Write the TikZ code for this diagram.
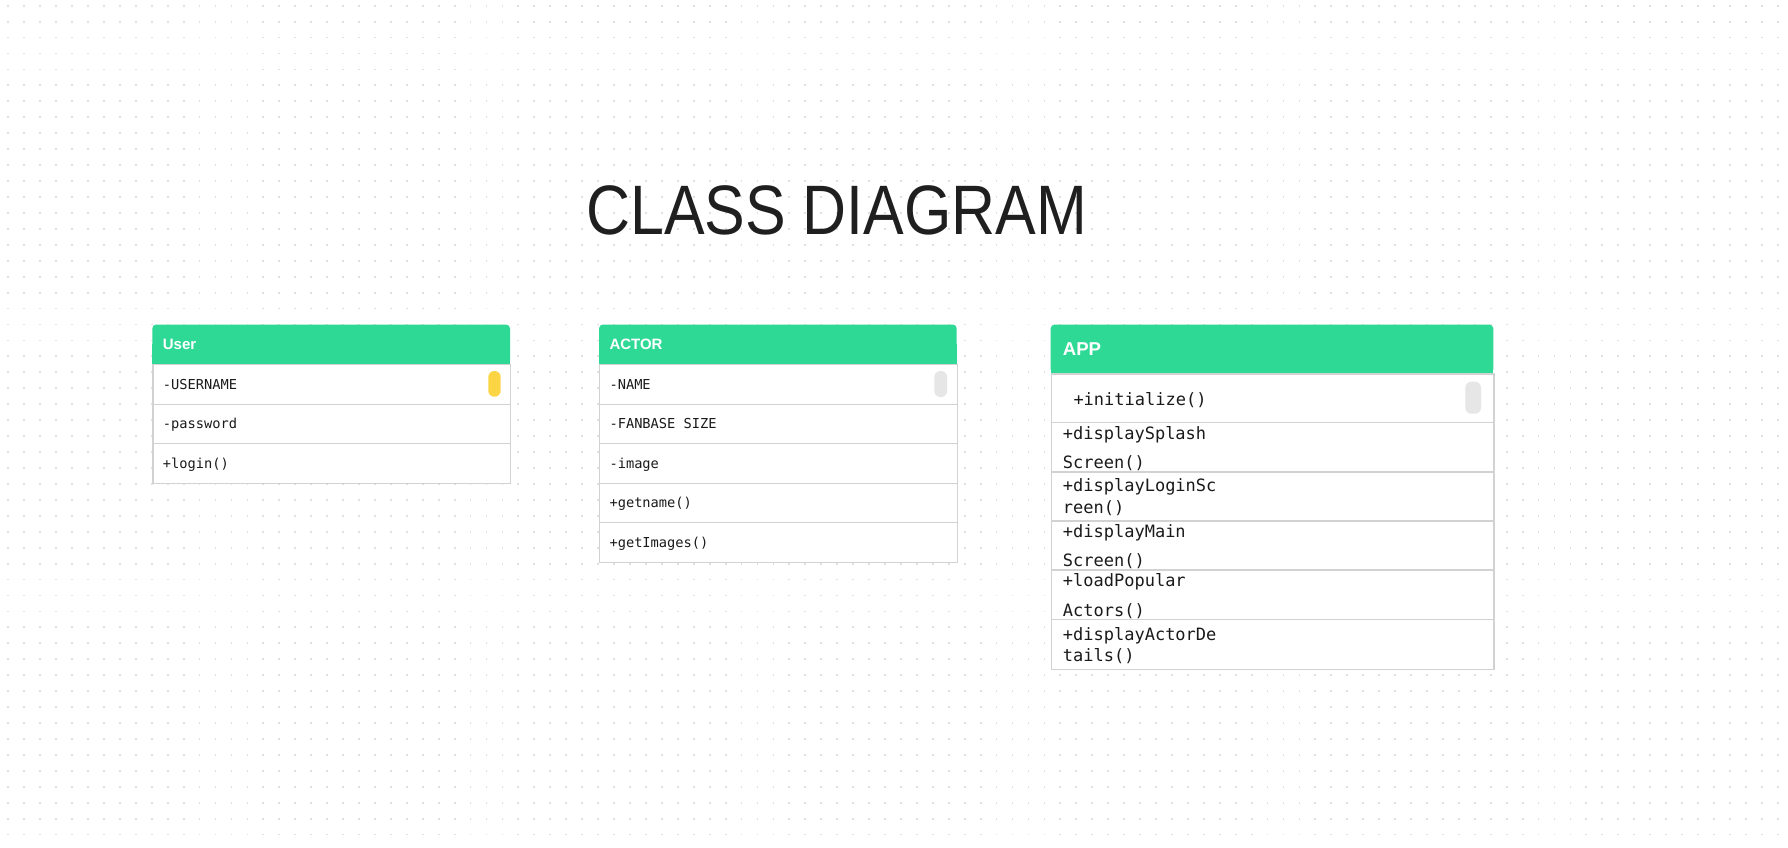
\documentclass[tikz,border=0pt]{standalone}
\usepackage{fontspec}
\setmainfont{Liberation Sans}
\newfontfamily\titlefont[FakeStretch=0.87]{Liberation Sans}
\newfontfamily\monofont{DejaVu Sans Mono}
\definecolor{hdrgreen}{HTML}{2ED996}
\definecolor{bordergrey}{HTML}{D2D2D2}
\definecolor{dotgrey}{HTML}{E0E0E0}
\definecolor{pillyellow}{HTML}{FBD544}
\definecolor{pillgrey}{HTML}{E6E6E6}
\definecolor{titleink}{HTML}{1F1F1F}
\definecolor{rowink}{HTML}{1A1A1A}
\begin{document}
\begin{tikzpicture}[x=1pt,y=-1pt,
  rowbox/.style={draw=bordergrey, line width=1.2pt, fill=white, inner sep=0pt, anchor=north west},
  hdrtext/.style={font=\fontsize{15}{18}\selectfont\bfseries, text=white, inner sep=0pt, anchor=base west},
  mtext/.style={font=\monofont\fontsize{13.7}{16}\selectfont, text=rowink, inner sep=0pt, anchor=base west},
  atext/.style={font=\monofont\fontsize{17}{20}\selectfont, text=rowink, inner sep=0pt, anchor=base west},
  pill/.style={rounded corners=6pt}
]
\useasboundingbox[fill=white] (0,0) rectangle (1788,848);
% dot grid
\foreach \i in {0,...,111}{
  \foreach \j in {0,...,52}{
    \fill[dotgrey] ({8.3+\i*15.94-0.9},{5.7+\j*15.94-0.9}) rectangle ++(1.8,1.8);
  }
}
% title
\node[font=\titlefont\fontsize{70}{76}\selectfont, text=titleink, inner sep=0pt, anchor=base west] (title) at (586,234.7) {CLASS DIAGRAM};

% ===== User =====
\fill[hdrgreen, rounded corners=4pt] (152.3,324.5) rectangle (510,364);
\fill[hdrgreen] (152.3,344) rectangle (510,364);
\node[hdrtext] (userh) at (162.7,349) {User};
\node[rowbox, minimum width=357.7pt, minimum height=39.5pt] (u1) at (152.3,364) {};
\node[rowbox, minimum width=357.7pt, minimum height=39.5pt] (u2) at (152.3,403.5) {};
\node[rowbox, minimum width=357.7pt, minimum height=39.5pt] (u3) at (152.3,443) {};
\node[mtext] (u1t) at (162.7,389) {-USERNAME};
\node[mtext] (u2t) at (162.7,428.5) {-password};
\node[mtext] (u3t) at (162.7,468) {+login()};
\fill[pillyellow, pill] (488.3,371) rectangle (500.7,396.7);

% ===== ACTOR =====
\fill[hdrgreen, rounded corners=4pt] (599,324.5) rectangle (956.7,364);
\fill[hdrgreen] (599,344) rectangle (956.7,364);
\node[hdrtext] (actorh) at (609.3,349) {ACTOR};
\node[rowbox, minimum width=357.7pt, minimum height=39.5pt] (a1) at (599,364) {};
\node[rowbox, minimum width=357.7pt, minimum height=39.5pt] (a2) at (599,403.5) {};
\node[rowbox, minimum width=357.7pt, minimum height=39.5pt] (a3) at (599,443) {};
\node[rowbox, minimum width=357.7pt, minimum height=39.5pt] (a4) at (599,482.5) {};
\node[rowbox, minimum width=357.7pt, minimum height=39.5pt] (a5) at (599,522) {};
\node[mtext] (a1t) at (609.3,389) {-NAME};
\node[mtext] (a2t) at (609.3,428.5) {-FANBASE SIZE};
\node[mtext] (a3t) at (609.3,468) {-image};
\node[mtext] (a4t) at (609.3,507.5) {+getname()};
\node[mtext] (a5t) at (609.3,547) {+getImages()};
\fill[pillgrey, pill] (934.3,371) rectangle (947,397);

% ===== APP =====
\fill[hdrgreen, rounded corners=4pt] (1050.7,324.5) rectangle (1493.3,373.3);
\fill[hdrgreen] (1050.7,350) rectangle (1493.3,373.3);
\node[hdrtext, font=\fontsize{18.6}{22}\selectfont\bfseries] (apph) at (1062.7,355.7) {APP};
\node[rowbox, minimum width=442.6pt, minimum height=48.7pt] (p1) at (1050.7,373.3) {};
\node[rowbox, minimum width=442.6pt, minimum height=49.3pt] (p2) at (1050.7,422) {};
\node[rowbox, minimum width=442.6pt, minimum height=49pt] (p3) at (1050.7,471.3) {};
\node[rowbox, minimum width=442.6pt, minimum height=49pt] (p4) at (1050.7,520.3) {};
\node[rowbox, minimum width=442.6pt, minimum height=49.7pt] (p5) at (1050.7,569.3) {};
\node[rowbox, minimum width=442.6pt, minimum height=49.7pt] (p6) at (1050.7,619) {};
\node[atext] (p1t) at (1073.3,405) {+initialize()};
\node[atext] (p2a) at (1062.7,439) {+displaySplash};
\node[atext] (p2b) at (1062.7,468.7) {Screen()};
\node[atext] (p3a) at (1062.7,491.7) {+displayLoginSc};
\node[atext] (p3b) at (1062.7,513.3) {reen()};
\node[atext] (p4a) at (1062.7,537.7) {+displayMain};
\node[atext] (p4b) at (1062.7,566.7) {Screen()};
\node[atext] (p5a) at (1062.7,586.7) {+loadPopular};
\node[atext] (p5b) at (1062.7,616) {Actors()};
\node[atext] (p6a) at (1062.7,640) {+displayActorDe};
\node[atext] (p6b) at (1062.7,661.7) {tails()};
\fill[pillgrey, pill] (1465.3,381.7) rectangle (1481,413.7);
\end{tikzpicture}
\end{document}
